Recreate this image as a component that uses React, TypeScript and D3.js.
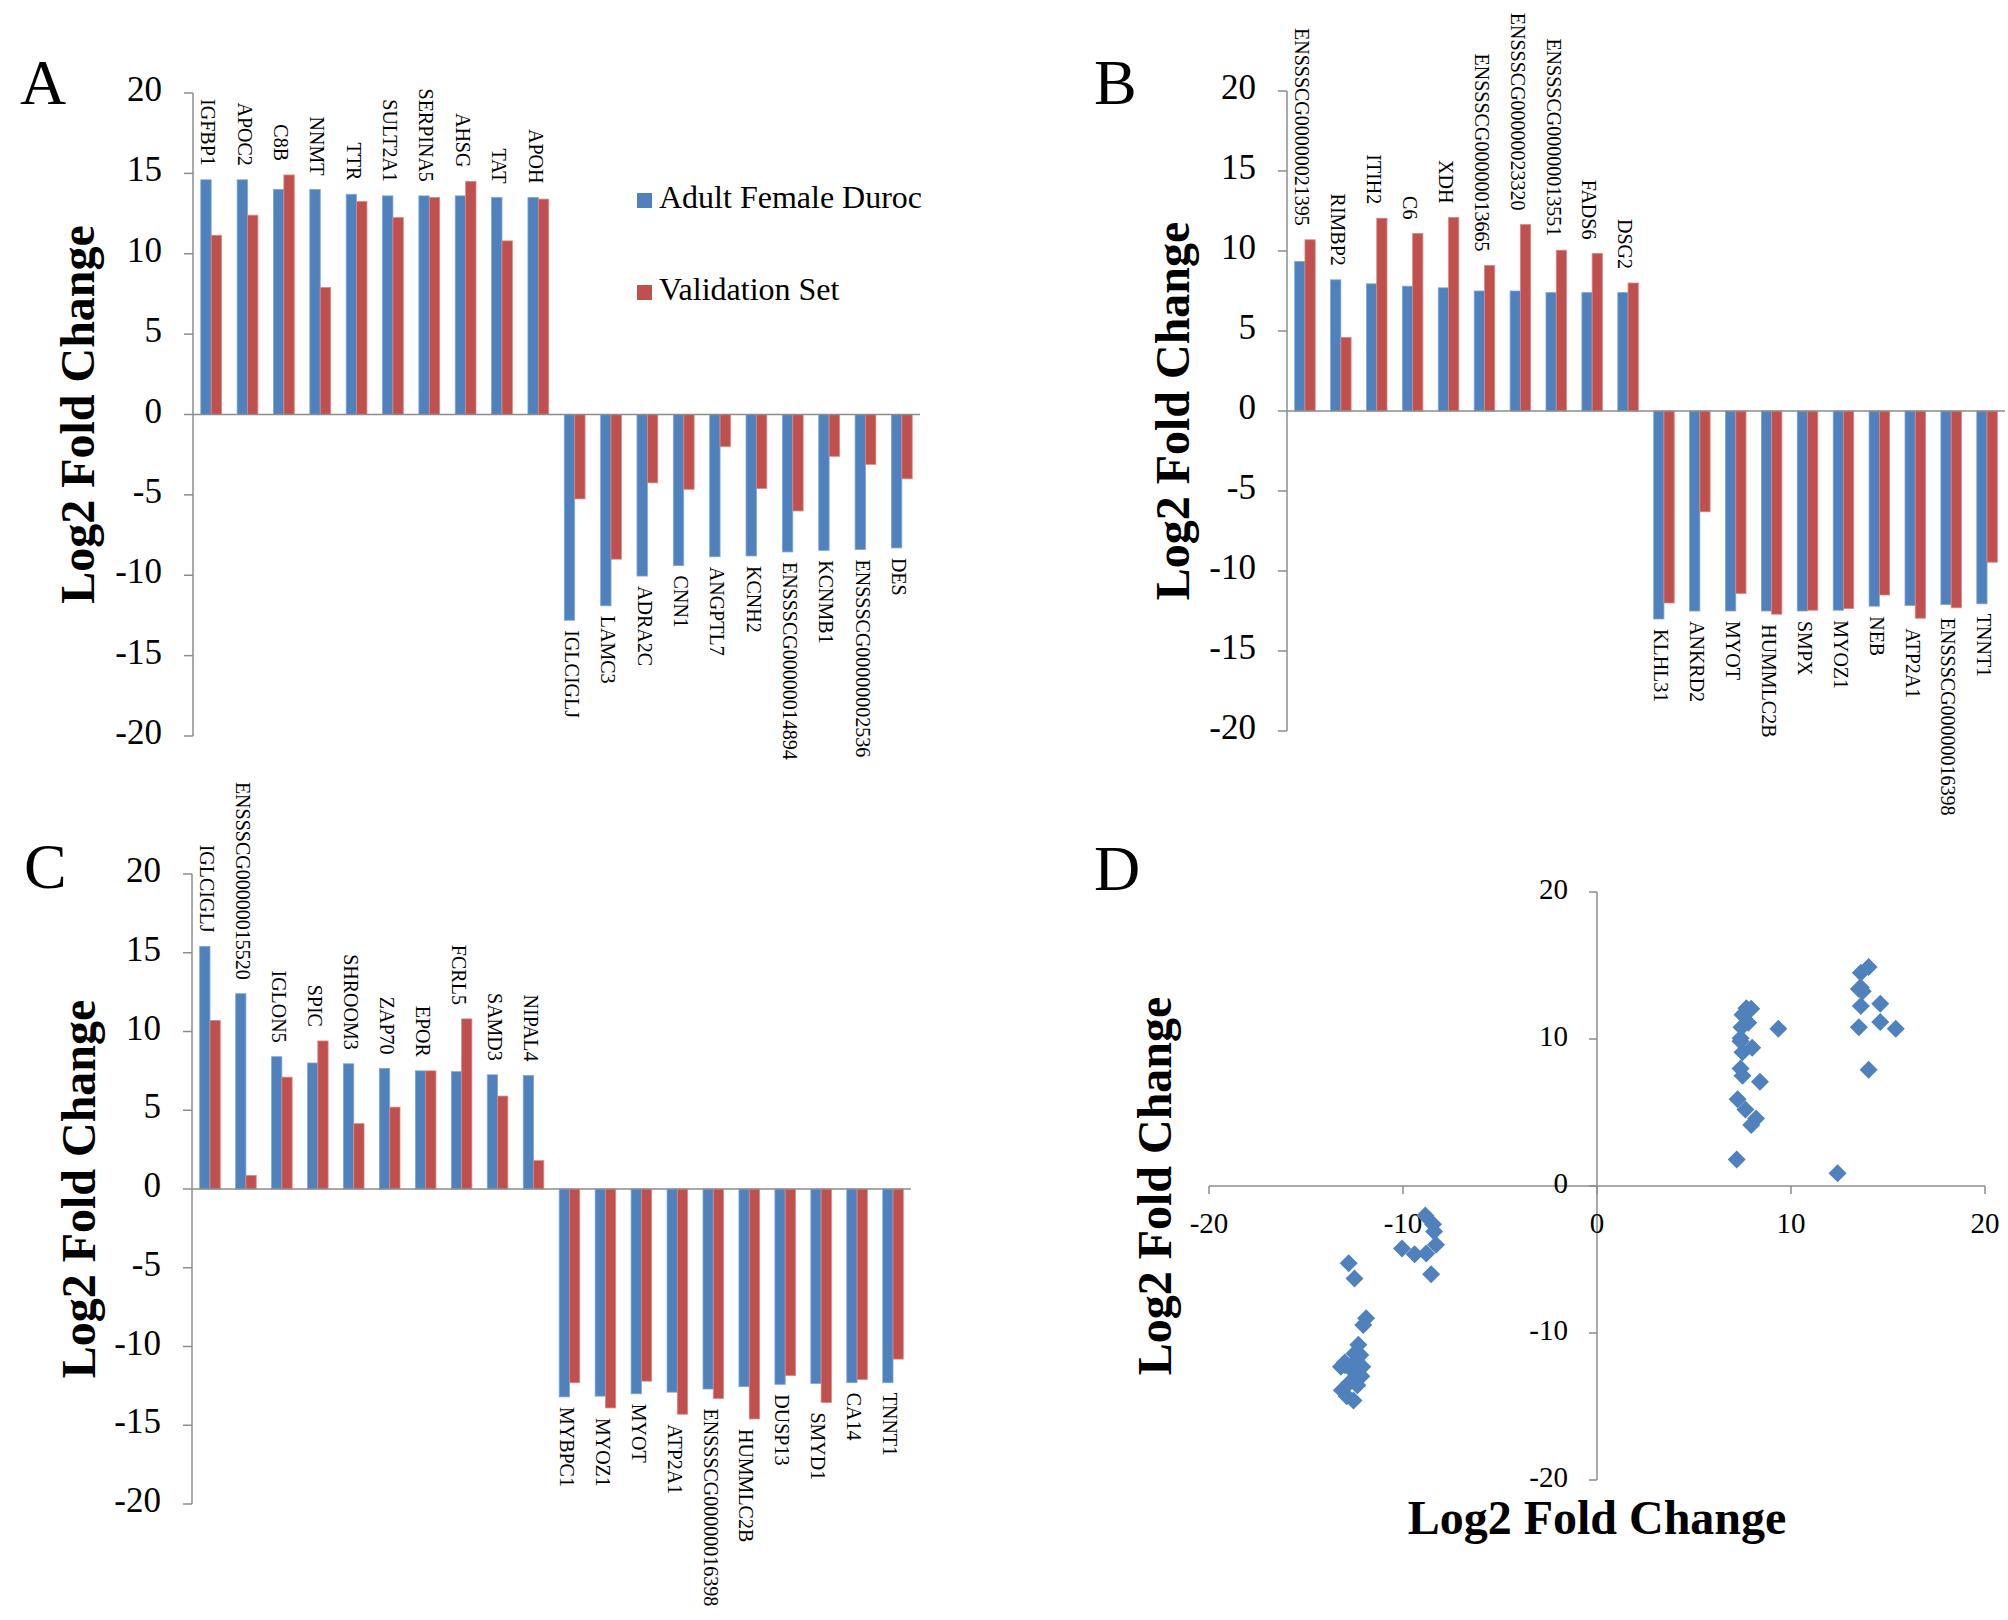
import { useEffect } from 'react';
import * as d3 from 'd3';

// panel A
const genesA = ['IGFBP1', 'APOC2', 'C8B', 'NNMT', 'TTR', 'SULT2A1', 'SERPINA5', 'AHSG', 'TAT', 'APOH',
  'IGLCIGLJ', 'LAMC3', 'ADRA2C', 'CNN1', 'ANGPTL7', 'KCNH2', 'ENSSSCG00000014894', 'KCNMB1', 'ENSSSCG00000002536', 'DES'];
const adultA = [14.6, 14.6, 14.0, 14.0, 13.7, 13.6, 13.6, 13.6, 13.5, 13.5,
  -12.8, -11.9, -10.05, -9.4, -8.85, -8.8, -8.55, -8.45, -8.4, -8.3];
const validA = [11.15, 12.4, 14.9, 7.9, 13.25, 12.25, 13.5, 14.5, 10.8, 13.4,
  -5.25, -9.0, -4.25, -4.65, -2.0, -4.6, -6.0, -2.6, -3.1, -4.0];

// panel B
const genesB = ['ENSSSCG00000021395', 'RIMBP2', 'ITIH2', 'C6', 'XDH', 'ENSSSCG00000013665', 'ENSSSCG00000023320', 'ENSSSCG00000013551', 'FADS6', 'DSG2',
  'KLHL31', 'ANKRD2', 'MYOT', 'HUMMLC2B', 'SMPX', 'MYOZ1', 'NEB', 'ATP2A1', 'ENSSSCG00000016398', 'TNNT1'];
const adultB = [9.35, 8.2, 7.95, 7.8, 7.7, 7.5, 7.5, 7.4, 7.4, 7.4,
  -13.0, -12.5, -12.5, -12.5, -12.5, -12.45, -12.2, -12.15, -12.1, -12.05];
const validB = [10.7, 4.6, 12.05, 11.1, 12.1, 9.1, 11.65, 10.05, 9.85, 8.0,
  -12.0, -6.3, -11.4, -12.7, -12.45, -12.35, -11.5, -12.95, -12.3, -9.45];

// panel C
const genesC = ['IGLCIGLJ', 'ENSSSCG00000015520', 'IGLON5', 'SPIC', 'SHROOM3', 'ZAP70', 'EPOR', 'FCRL5', 'SAMD3', 'NIPAL4',
  'MYBPC1', 'MYOZ1', 'MYOT', 'ATP2A1', 'ENSSSCG00000016398', 'HUMMLC2B', 'DUSP13', 'SMYD1', 'CA14', 'TNNT1'];
const adultC = [15.4, 12.4, 8.4, 8.0, 7.95, 7.65, 7.5, 7.45, 7.25, 7.2,
  -13.2, -13.15, -13.0, -12.9, -12.7, -12.55, -12.4, -12.35, -12.3, -12.3];
const validC = [10.7, 0.86, 7.1, 9.4, 4.15, 5.2, 7.5, 10.8, 5.9, 1.8,
  -12.3, -13.9, -12.2, -14.3, -13.3, -14.6, -11.85, -13.55, -12.1, -10.8];

const barTicks = [20, 15, 10, 5, 0, -5, -10, -15, -20];
const scatterTicks = [-20, -10, 0, 10, 20];
const seriesNames = ['Adult Female Duroc', 'Validation Set'];

const BLUE = '#4F81BD';
const RED = '#C0504D';
const AXIS = '#8c8c8c';
const FONT = '"Liberation Serif", "Times New Roman", serif';

interface BarPanelProps {
  letter: string
  genes: string[]
  adult: number[]
  valid: number[]
  left: number
  right: number
  top: number
  bottom: number
  letterPos: [number, number]
  titleX: number
  legend?: boolean
}

const BarPanel = ({ letter, genes, adult, valid, left, right, top, bottom, letterPos, titleX, legend }: BarPanelProps) => {
  const y = d3.scaleLinear().domain([-20, 20]).range([bottom, top]);
  const x0 = d3.scaleBand<number>().domain(d3.range(genes.length)).range([left, right]);
  const x1 = d3.scaleBand<string>().domain(['a', 'v']).range([0, x0.bandwidth()]).paddingOuter(0.75);
  const bw = x1.bandwidth();
  return (
    <g fontFamily={FONT}>
      <text x={letterPos[0]} y={letterPos[1]} fontSize={64}>{letter}</text>
      <text transform={`translate(${titleX},${y(0)}) rotate(-90)`} textAnchor="middle" dominantBaseline="middle"
        fontSize={48} fontWeight="bold">Log2 Fold Change</text>
      {genes.map((g, i) => {
        const a = adult[i], v = valid[i];
        const xa = x0(i)! + x1('a')!, xv = x0(i)! + x1('v')!;
        const pos = a >= 0;
        const ly = pos ? y(Math.max(a, v)) - 14 : y(Math.min(a, v)) + 10;
        return (
          <g key={i}>
            <rect x={xa} width={bw} y={Math.min(y(a), y(0))} height={Math.abs(y(a) - y(0))} fill={BLUE} stroke="#7fa6d6" strokeWidth={0.8} />
            <rect x={xv} width={bw} y={Math.min(y(v), y(0))} height={Math.abs(y(v) - y(0))} fill={RED} stroke="#d88886" strokeWidth={0.8} />
            <text transform={`translate(${xa + bw / 2},${ly}) rotate(90)`} textAnchor={pos ? 'end' : 'start'}
              dominantBaseline="middle" fontSize={20}>{g}</text>
          </g>
        );
      })}
      <line x1={left} x2={left} y1={top} y2={bottom} stroke={AXIS} strokeWidth={1.5} />
      <line x1={left} x2={right} y1={y(0)} y2={y(0)} stroke={AXIS} strokeWidth={1.5} />
      {barTicks.map(t => (
        <g key={t}>
          <line x1={left - 9} x2={left} y1={y(t)} y2={y(t)} stroke={AXIS} strokeWidth={1.5} />
          <text x={left - 31} y={y(t)} textAnchor="end" dominantBaseline="middle" fontSize={35}>{t}</text>
        </g>
      ))}
      {legend && seriesNames.map((s, i) => (
        <g key={s}>
          <rect x={637} y={[193, 285][i]} width={15} height={15} fill={i === 0 ? BLUE : RED} />
          <text x={659} y={[201, 293][i]} dominantBaseline="middle" fontSize={32}>{s}</text>
        </g>
      ))}
    </g>
  );
};

const ScatterPanel = () => {
  const xs = [...adultA, ...adultB, ...adultC];
  const ys = [...validA, ...validB, ...validC];
  const x = d3.scaleLinear().domain([-20, 20]).range([1209, 1985]);
  const y = d3.scaleLinear().domain([-20, 20]).range([1480, 892]);
  const diamond = 'M0,-9L9,0L0,9L-9,0Z';
  return (
    <g fontFamily={FONT}>
      <text x={1094} y={890} fontSize={64}>D</text>
      <text transform={`translate(1160,${y(0)}) rotate(-90)`} textAnchor="middle" dominantBaseline="middle"
        fontSize={48} fontWeight="bold">Log2 Fold Change</text>
      <text x={x(0)} y={1534} textAnchor="middle" fontSize={48} fontWeight="bold">Log2 Fold Change</text>
      <line x1={x(0)} x2={x(0)} y1={y(20)} y2={y(-20)} stroke={AXIS} strokeWidth={1.5} />
      <line x1={x(-20)} x2={x(20)} y1={y(0)} y2={y(0)} stroke={AXIS} strokeWidth={1.5} />
      {scatterTicks.map(t => (
        <g key={t}>
          <line x1={x(0) - 8} x2={x(0)} y1={y(t)} y2={y(t)} stroke={AXIS} strokeWidth={1.5} />
          <text x={x(0) - 29} y={y(t)} textAnchor="end" dominantBaseline="middle" fontSize={29}>{t}</text>
          <line x1={x(t)} x2={x(t)} y1={y(0)} y2={y(0) + 8} stroke={AXIS} strokeWidth={1.5} />
          <text x={x(t)} y={y(0) + 40} textAnchor="middle" dominantBaseline="middle" fontSize={29}>{t}</text>
        </g>
      ))}
      {xs.map((v, i) => (
        <path key={i} d={diamond} transform={`translate(${x(v)},${y(ys[i])})`} fill={BLUE} />
      ))}
    </g>
  );
};

const App = () => {
  useEffect(() => { document.body.style.margin = '0'; }, []);
  return (
    <svg width={2008} height={1620} style={{ display: 'block', background: '#fff' }}>
      <BarPanel letter="A" genes={genesA} adult={adultA} valid={validA} left={193} right={920} top={93} bottom={736}
        letterPos={[20, 104]} titleX={83} legend />
      <BarPanel letter="B" genes={genesB} adult={adultB} valid={validB} left={1287} right={2005} top={91} bottom={731}
        letterPos={[1094, 104]} titleX={1178} />
      <BarPanel letter="C" genes={genesC} adult={adultC} valid={validC} left={192} right={911} top={874} bottom={1504}
        letterPos={[24, 888]} titleX={84} />
      <ScatterPanel />
    </svg>
  );
};

export default App;
